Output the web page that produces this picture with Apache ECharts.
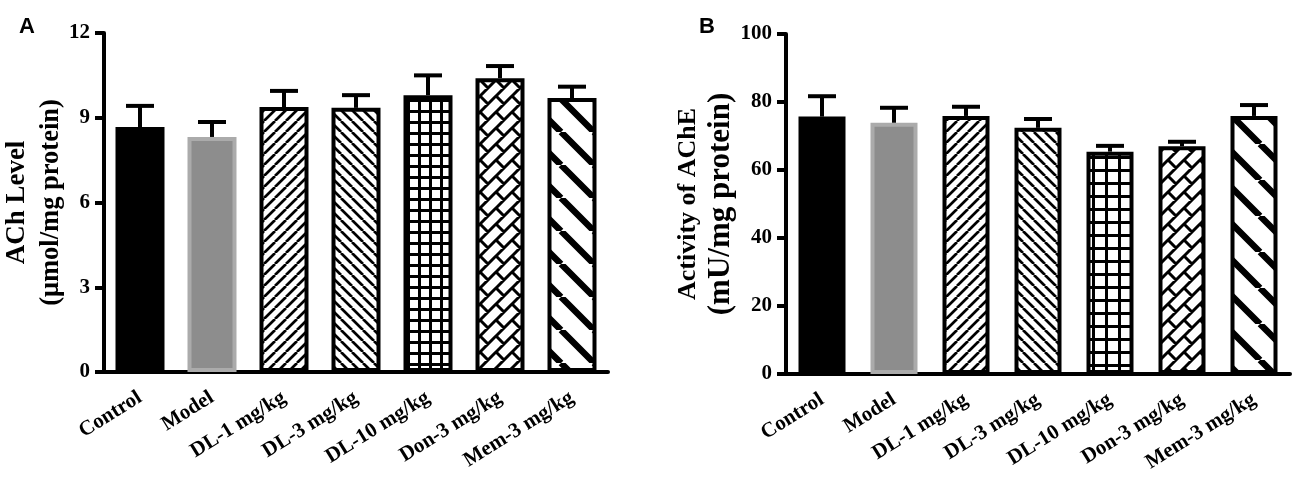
<!DOCTYPE html>
<html lang="en">

<head>
    <meta charset="UTF-8">
    <title>ACh and AChE</title>
    <script src="https://cdn.jsdelivr.net/npm/echarts@6/dist/echarts.min.js"></script>
    <style>
        html, body { margin: 0; padding: 0; background: #fff; }
        #chart { width: 1300px; height: 482px; }
    </style>
</head>

<body>
    <div id="chart"></div>
    <script>
        var categories = ['Control', 'Model', 'DL-1 mg/kg', 'DL-3 mg/kg', 'DL-10 mg/kg', 'Don-3 mg/kg', 'Mem-3 mg/kg'];
        // panel A: ACh level
        var achMean = [8.67, 8.32, 9.38, 9.35, 9.80, 10.40, 9.70];
        var achErr = [0.75, 0.53, 0.57, 0.45, 0.70, 0.43, 0.40];
        var achTicks = [0, 3, 6, 9, 12];
        // panel B: AChE activity
        var acheMean = [75.7, 73.9, 75.9, 72.4, 65.4, 67.0, 75.9];
        var acheErr = [6.0, 4.4, 2.7, 2.6, 1.7, 1.3, 3.2];
        var acheTicks = [0, 20, 40, 60, 80, 100];

        var serif = 'Liberation Serif, Times New Roman, serif';

        function tile(size, draw) {
            var c = document.createElement('canvas');
            c.width = size;
            c.height = size;
            var ctx = c.getContext('2d');
            ctx.fillStyle = '#fff';
            ctx.fillRect(0, 0, size, size);
            ctx.strokeStyle = '#000';
            ctx.fillStyle = '#000';
            draw(ctx, size);
            return { image: c, repeat: 'repeat' };
        }
        function slash(size, lw) {   // "/"
            return tile(size, function (ctx, s) {
                ctx.lineWidth = lw;
                ctx.beginPath();
                for (var o = -s; o <= s; o += s) { ctx.moveTo(o, s); ctx.lineTo(o + s, 0); }
                ctx.stroke();
            });
        }
        function backslash(size, lw) {   // "\"
            return tile(size, function (ctx, s) {
                ctx.lineWidth = lw;
                ctx.beginPath();
                for (var o = -s; o <= s; o += s) { ctx.moveTo(o, 0); ctx.lineTo(o + s, s); }
                ctx.stroke();
            });
        }
        function grid(size, lw) {
            return tile(size, function (ctx, s) {
                ctx.fillRect(0, 0, s, lw);
                ctx.fillRect(0, 0, lw, s);
            });
        }
        function brick(size, lw) {
            // bricks rotated 45deg, tile is one lattice period
            return tile(size, function (ctx, s) {
                var h = s / Math.SQRT2, w = 2 * h, r = Math.SQRT1_2;
                ctx.setTransform(r, -r, r, r, 0, 0);
                ctx.lineWidth = lw;
                ctx.beginPath();
                for (var k = -6; k <= 6; k++) {
                    ctx.moveTo(-10 * w, k * h); ctx.lineTo(10 * w, k * h);
                    for (var j = -6; j <= 6; j++) {
                        var u = j * w + (k % 2 ? w / 2 : 0);
                        ctx.moveTo(u, k * h); ctx.lineTo(u, (k + 1) * h);
                    }
                }
                ctx.stroke();
            });
        }

        function barStyles(p) {
            return [
                { color: '#000', borderColor: '#000' },
                { color: '#8d8d8d', borderColor: '#ababab' },
                { color: slash(p.thin, 2.7), borderColor: '#000' },
                { color: backslash(p.thin, 2.7), borderColor: '#000' },
                { color: grid(p.grid, 3), borderColor: '#000' },
                { color: brick(p.brick, 3), borderColor: '#000' },
                { color: backslash(p.thick, 6.5), borderColor: '#000' }
            ];
        }
        var stylesA = barStyles({ thin: 11, grid: 11, brick: 16, thick: 33 });
        var stylesB = barStyles({ thin: 11, grid: 13, brick: 16, thick: 36 });

        function errorBars(mean, err, idx) {
            return {
                type: 'custom',
                xAxisIndex: idx,
                yAxisIndex: idx,
                z: 5,
                data: mean.map(function (m, i) { return [i, m, m + err[i]]; }),
                renderItem: function (params, api) {
                    var base = api.coord([api.value(0), api.value(1)]);
                    var top = api.coord([api.value(0), api.value(2)]);
                    var half = 14;
                    var st = { stroke: '#000', lineWidth: 4 };
                    return {
                        type: 'group',
                        children: [
                            { type: 'line', shape: { x1: base[0], y1: base[1], x2: top[0], y2: top[1] }, style: st },
                            { type: 'line', shape: { x1: top[0] - half, y1: top[1], x2: top[0] + half, y2: top[1] }, style: st }
                        ]
                    };
                }
            };
        }

        function xAxis(idx) {
            return {
                type: 'category',
                gridIndex: idx,
                data: categories,
                axisLine: { lineStyle: { color: '#000', width: 4 } },
                axisTick: { alignWithLabel: true, length: 12, lineStyle: { color: '#000', width: 4 } },
                axisLabel: {
                    interval: 0, rotate: 32, margin: 24, color: '#000',
                    fontFamily: serif, fontWeight: 'bold', fontSize: 21
                }
            };
        }
        function yAxis(idx, ticks, name, sizes) {
            return {
                type: 'value',
                gridIndex: idx,
                min: ticks[0],
                max: ticks[ticks.length - 1],
                interval: ticks[1] - ticks[0],
                name: name,
                nameLocation: 'middle',
                nameGap: sizes.gap,
                nameTextStyle: {
                    color: '#000', fontFamily: serif, fontWeight: 'bold',
                    rich: {
                        a: { fontFamily: serif, fontWeight: 'bold', fontSize: sizes.a, lineHeight: sizes.la },
                        b: { fontFamily: serif, fontWeight: 'bold', fontSize: sizes.b, lineHeight: sizes.lb }
                    }
                },
                splitLine: { show: false },
                axisLine: { show: true, lineStyle: { color: '#000', width: 4 } },
                axisTick: { show: true, length: 9, lineStyle: { color: '#000', width: 4 } },
                axisLabel: { margin: 14, color: '#000', fontFamily: serif, fontWeight: 'bold', fontSize: 21 }
            };
        }

        var myChart = echarts.init(document.getElementById('chart'), null, { renderer: 'canvas' });
        myChart.setOption({
            animation: false,
            backgroundColor: '#fff',
            title: [
                { text: 'A', left: 14, top: 11, textStyle: { fontFamily: 'Liberation Sans, Arial', fontWeight: 'bold', fontSize: 22, color: '#000' } },
                { text: 'B', left: 694, top: 11, textStyle: { fontFamily: 'Liberation Sans, Arial', fontWeight: 'bold', fontSize: 22, color: '#000' } }
            ],
            grid: [
                { left: 104, top: 33, width: 504, height: 339, outerBoundsMode: 'none' },
                { left: 786, top: 34, width: 504, height: 340, outerBoundsMode: 'none' }
            ],
            xAxis: [xAxis(0), xAxis(1)],
            yAxis: [
                yAxis(0, achTicks, '{a|ACh Level}\n{b|(μmol/mg protein)}', { a: 27, la: 35, b: 26.5, lb: 35, gap: 33 }),
                yAxis(1, acheTicks, '{a|Activity of AChE}\n{b|(mU/mg protein)}', { a: 26, la: 30, b: 31, lb: 36, gap: 35 })
            ],
            series: [
                {
                    type: 'bar', xAxisIndex: 0, yAxisIndex: 0, barWidth: 49,
                    itemStyle: { borderWidth: 4 },
                    data: achMean.map(function (v, i) { return { value: v, itemStyle: stylesA[i] }; })
                },
                {
                    type: 'bar', xAxisIndex: 1, yAxisIndex: 1, barWidth: 47,
                    itemStyle: { borderWidth: 4 },
                    data: acheMean.map(function (v, i) { return { value: v, itemStyle: stylesB[i] }; })
                },
                errorBars(achMean, achErr, 0),
                errorBars(acheMean, acheErr, 1)
            ]
        });
    </script>
</body>

</html>
